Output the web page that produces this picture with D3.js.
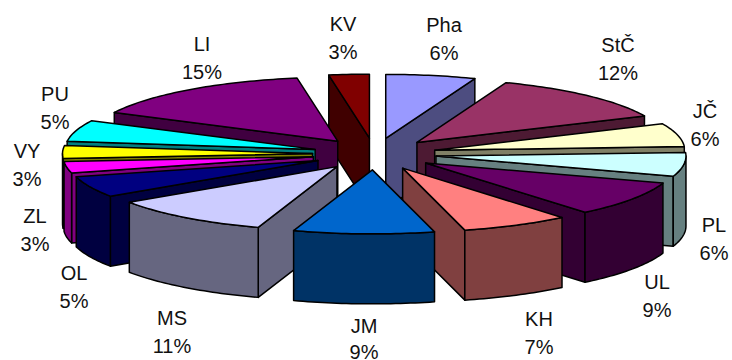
<!DOCTYPE html>
<html>
<head>
<meta charset="utf-8">
<script src="https://cdn.jsdelivr.net/npm/d3@7"></script>
<style>
html,body{margin:0;padding:0;background:#fff;}
svg{display:block;}
text{font-family:"Liberation Sans",Arial,sans-serif;font-size:20px;fill:#111;text-anchor:middle;}
</style>
</head>
<body>
<svg id="chart" width="732" height="360"></svg>
<script>
// Regional shares in percent, clockwise from twelve o'clock
const regions = ["Pha","StČ","JČ","PL","UL","KH","JM","MS","OL","ZL","VY","PU","LI","KV"];
const shares  = [5.8,12.4,5.9,6.0,8.9,7.0,9.1,10.5,5.3,2.9,3.2,5.4,15.0,2.6];

// Face colours per slice, and the darker shade used on its sides
const topColors  = ["#9999FF","#993366","#FFFFCC","#CCFFFF","#660066","#FF8080","#0066CC","#CCCCFF","#000080","#FF00FF","#FFFF00","#00FFFF","#800080","#800000"];
const sideColors = ["#4D4D80","#4D1A33","#808066","#668080","#330033","#804040","#003366","#666680","#000040","#800080","#808000","#008080","#400040","#400000"];

// Label centres: x, first-line baseline, gap to the second line
const labelSpots = [[444,32,28],[618,52,28],[705,118,28],[714,232,28],[657,289,28],[539,326,28],[364,333,26],[172,325,28],[74,280,28],[35,223,28],[27,158,28],[55,101,28],[202,51,28],[343,31,28]];

const center = {x:374.5, y:154};
const radiusX = 250, radiusY = 64, depth = 70, explode = 62;

const svg = d3.select("#chart");
const x = d3.scaleLinear().domain([-1,1]).range([center.x-radiusX, center.x+radiusX]);
const y = d3.scaleLinear().domain([-1,1]).range([center.y-radiusY, center.y+radiusY]);
const line = d3.line();

const pie = d3.pie().sort(null).value(d=>d.share);
const slices = pie(regions.map((name,i)=>({name,share:shares[i],top:topColors[i],side:sideColors[i]})));

// Ellipse point for a clock angle, fraction r of the radius, shifted by (ox,oy)
const pt = (a,r,ox,oy)=>[x(r*Math.sin(a))+ox, y(-r*Math.cos(a))+oy];
function arcPoints(a0,a1,ox,oy){
  const n = Math.max(2,Math.ceil((a1-a0)/0.02));
  return d3.range(n+1).map(i=>pt(a0+(a1-a0)*i/n,1,ox,oy));
}

// Back slices first so nearer ones overlap them
const ordered = slices.slice().sort((p,q)=>
  Math.cos((q.startAngle+q.endAngle)/2)-Math.cos((p.startAngle+p.endAngle)/2));

ordered.forEach(s=>{
  const mid=(s.startAngle+s.endAngle)/2;
  const ex = explode*Math.sin(mid);
  const ey = -explode*(radiusY/radiusX)*Math.cos(mid);
  const apex=[center.x+ex,center.y+ey];
  const g=svg.append("g");
  const face=(pts,fill)=>g.append("path").attr("d",line(pts)+"Z").attr("fill",fill)
    .attr("stroke","#000").attr("stroke-width",1.5).attr("stroke-linejoin","round");
  const wall=a=>{
    const o=pt(a,1,ex,ey);
    face([apex,o,[o[0],o[1]+depth],[apex[0],apex[1]+depth]],s.data.side);
  };
  // Radial cut faces that turn towards the viewer
  if(Math.sin(s.startAngle)<0) wall(s.startAngle);
  if(Math.sin(s.endAngle)>0) wall(s.endAngle);
  // Rim, front half only
  const a0=Math.max(s.startAngle,Math.PI/2), a1=Math.min(s.endAngle,Math.PI*1.5);
  if(a1>a0){
    const rim=arcPoints(a0,a1,ex,ey);
    face(rim.concat(rim.slice().reverse().map(p=>[p[0],p[1]+depth])),s.data.side);
  }
  // Top surface
  face([apex].concat(arcPoints(s.startAngle,s.endAngle,ex,ey)),s.data.top);
});

// Two-line labels: region name and rounded share
slices.forEach((s,i)=>{
  const [lx,ly,gap]=labelSpots[i];
  svg.append("text").attr("x",lx).attr("y",ly).text(s.data.name);
  svg.append("text").attr("x",lx).attr("y",ly+gap).text(Math.round(s.data.share)+"%");
});
</script>
</body>
</html>
